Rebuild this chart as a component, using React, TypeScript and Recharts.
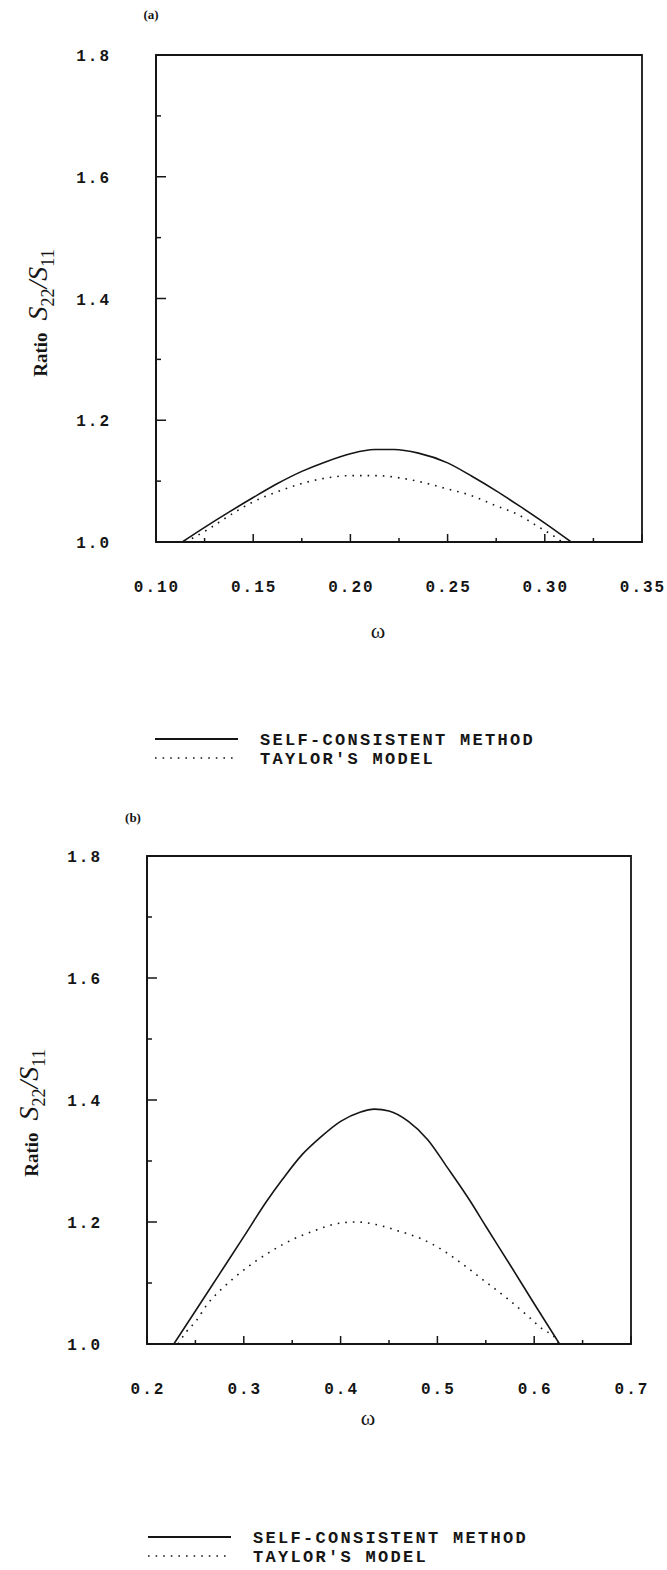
import React from 'react';
import { LineChart, Line, XAxis, YAxis, Legend, ReferenceArea } from 'recharts';

// ---------- Panel (a) ----------
const selfOmegaA = [0.1135, 0.125, 0.1375, 0.15, 0.1625, 0.175, 0.1875, 0.2, 0.2125, 0.2225, 0.235, 0.25, 0.2625, 0.275, 0.2875, 0.3, 0.3136];
const selfRatioA = [1.0, 1.024, 1.049, 1.073, 1.096, 1.116, 1.132, 1.145, 1.152, 1.152, 1.146, 1.13, 1.108, 1.084, 1.058, 1.031, 1.0];
const taylorOmegaA = [0.115, 0.1264, 0.138, 0.15, 0.162, 0.175, 0.1873, 0.2002, 0.2131, 0.226, 0.237, 0.25, 0.2616, 0.2745, 0.2856, 0.2967, 0.304, 0.309];
const taylorRatioA = [1.0, 1.02, 1.044, 1.066, 1.082, 1.096, 1.105, 1.109, 1.109, 1.105, 1.098, 1.087, 1.077, 1.06, 1.046, 1.025, 1.011, 1.0];
const xTicksA = [0.1, 0.125, 0.15, 0.175, 0.2, 0.225, 0.25, 0.275, 0.3, 0.325, 0.35];
const xMajorA = [0.1, 0.15, 0.2, 0.25, 0.3, 0.35];
const xLabelsA = ['0.10', '0.15', '0.20', '0.25', '0.30', '0.35'];

// ---------- Panel (b) ----------
const selfOmegaB = [0.2277, 0.25, 0.275, 0.3, 0.3236, 0.34, 0.36, 0.38, 0.4, 0.42, 0.435, 0.45, 0.47, 0.49, 0.51, 0.534, 0.55, 0.575, 0.6, 0.6262];
const selfRatioB = [1.0, 1.054, 1.115, 1.176, 1.234, 1.27, 1.31, 1.34, 1.365, 1.38, 1.385, 1.382, 1.365, 1.335, 1.29, 1.234, 1.193, 1.13, 1.066, 1.0];
const taylorOmegaB = [0.232, 0.2406, 0.2498, 0.2627, 0.2756, 0.2904, 0.3107, 0.3292, 0.3513, 0.3734, 0.3956, 0.4159, 0.4362, 0.4583, 0.4841, 0.5063, 0.5284, 0.5506, 0.5727, 0.5948, 0.6096, 0.6207, 0.625];
const taylorRatioB = [1.0, 1.02, 1.036, 1.066, 1.088, 1.109, 1.134, 1.153, 1.172, 1.186, 1.197, 1.2, 1.196, 1.186, 1.172, 1.153, 1.128, 1.101, 1.074, 1.044, 1.023, 1.012, 1.0];
const xTicksB = [0.2, 0.25, 0.3, 0.35, 0.4, 0.45, 0.5, 0.55, 0.6, 0.65, 0.7];
const xMajorB = [0.2, 0.3, 0.4, 0.5, 0.6, 0.7];
const xLabelsB = ['0.2', '0.3', '0.4', '0.5', '0.6', '0.7'];

// ---------- Shared y axis ----------
const yTicks = [1.0, 1.1, 1.2, 1.3, 1.4, 1.5, 1.6, 1.7, 1.8];
const yMajor = [1.0, 1.2, 1.4, 1.6, 1.8];
const yLabels = ['1.0', '1.2', '1.4', '1.6', '1.8'];

const seriesNames = ['SELF-CONSISTENT METHOD', "TAYLOR'S MODEL"];

const zip = (xs: number[], ys: number[]) => xs.map((w, i) => ({ w, r: ys[i] }));

const INK = '#151515';
const MONO = '"Liberation Mono", "DejaVu Sans Mono", monospace';
const SERIF = '"Liberation Serif", "DejaVu Serif", serif';

const findLabel = (v: number, majors: number[], labels: string[]) => {
  const i = majors.findIndex((m) => Math.abs(m - v) < 1e-6);
  return i >= 0 ? labels[i] : null;
};

const makeXTick = (majors: number[], labels: string[]) => (props: any) => {
  const { x, y, payload } = props;
  const lab = findLabel(payload.value, majors, labels);
  return (
    <g>
      <line x1={x} x2={x} y1={y} y2={y - (lab ? 8 : 4)} stroke={INK} strokeWidth={1.5} />
      {lab && (
        <text x={x + 1} y={y + 50} textAnchor="middle" fontFamily={MONO} fontSize={16} fontWeight="bold" letterSpacing={2} fill={INK}>
          {lab}
        </text>
      )}
    </g>
  );
};

const YTick = (props: any) => {
  const { x, y, payload } = props;
  const lab = findLabel(payload.value, yMajor, yLabels);
  return (
    <g>
      <line x1={x} x2={x + (lab ? 10 : 5)} y1={y} y2={y} stroke={INK} strokeWidth={1.5} />
      {lab && (
        <text x={x - 45} y={y + 6} textAnchor="end" fontFamily={MONO} fontSize={16} fontWeight="bold" letterSpacing={2} fill={INK}>
          {lab}
        </text>
      )}
    </g>
  );
};

const OmegaLabel = (props: any) => (
  <text x={props.px} y={props.py} textAnchor="middle" fontFamily={SERIF} fontSize={22} fill={INK}>
    ω
  </text>
);

const RatioLabel = (props: any) => (
  <g>
    <text
      transform={`translate(${props.px},${props.py}) rotate(-90)`}
      textAnchor="middle"
      fontFamily={SERIF}
      fill={INK}
    >
      <tspan fontSize={19} fontWeight="bold">Ratio</tspan>
      <tspan fontSize={28} fontStyle="italic" dx={12}>S</tspan>
      <tspan fontSize={18} dy={7}>22</tspan>
      <tspan fontSize={28} fontStyle="italic" dy={-7}>/S</tspan>
      <tspan fontSize={18} dy={7}>11</tspan>
    </text>
    <text x={props.tx} y={props.ty} textAnchor="middle" fontFamily={SERIF} fontSize={13} fontWeight="bold" fill={INK}>
      {props.tag}
    </text>
  </g>
);

const LegendBox = (props: any) => {
  const payload = props.payload || [];
  return (
    <svg width={440} height={44} style={{ display: 'block' }}>
      {payload.map((e: any, i: number) => {
        const dash = e.payload && e.payload.strokeDasharray;
        return (
          <g key={i}>
            <line
              x1={0}
              x2={83}
              y1={8 + i * 19}
              y2={8 + i * 19}
              stroke={INK}
              strokeWidth={dash ? 1.6 : 2.2}
              strokeDasharray={dash}
            />
            <text x={105} y={14 + i * 19} fontFamily={MONO} fontSize={17} fontWeight="bold" letterSpacing={2.3} fill={INK}>
              {e.value}
            </text>
          </g>
        );
      })}
    </svg>
  );
};

type PanelProps = {
  self: { w: number; r: number }[];
  taylor: { w: number; r: number }[];
  domain: [number, number];
  ticks: number[];
  majors: number[];
  labels: string[];
  width: number;
  height: number;
  margin: { top: number; right: number; left: number; bottom: number };
  omegaPos: [number, number];
  ratioPos: [number, number];
  tagPos: [number, number];
  tag: string;
  legendPos: [number, number];
};

const Panel = (p: PanelProps) => (
  <LineChart width={p.width} height={p.height} margin={p.margin}>
    <XAxis
      dataKey="w"
      type="number"
      domain={p.domain}
      ticks={p.ticks}
      interval={0}
      allowDataOverflow
      tickSize={0}
      tickMargin={0}
      height={30}
      axisLine={{ stroke: INK, strokeWidth: 2.2 }}
      tickLine={false}
      tick={makeXTick(p.majors, p.labels)}
      label={<OmegaLabel px={p.omegaPos[0]} py={p.omegaPos[1]} />}
    />
    <YAxis
      dataKey="r"
      type="number"
      domain={[1, 1.8]}
      ticks={yTicks}
      interval={0}
      allowDataOverflow
      tickSize={0}
      tickMargin={0}
      width={60}
      axisLine={{ stroke: INK, strokeWidth: 1.8 }}
      tickLine={false}
      tick={YTick}
      label={<RatioLabel px={p.ratioPos[0]} py={p.ratioPos[1]} tx={p.tagPos[0]} ty={p.tagPos[1]} tag={p.tag} />}
    />
    <ReferenceArea
      x1={p.domain[0]}
      x2={p.domain[1]}
      y1={1}
      y2={1.8}
      fill="none"
      fillOpacity={0}
      stroke={INK}
      strokeWidth={1.8}
      ifOverflow="visible"
    />
    <Legend
      layout="horizontal"
      verticalAlign="middle"
      align="center"
      content={LegendBox}
      wrapperStyle={{ top: p.legendPos[1], left: p.legendPos[0], width: 440, height: 44 }}
    />
    <Line
      data={p.self}
      dataKey="r"
      name={seriesNames[0]}
      type="monotone"
      stroke={INK}
      strokeWidth={1.6}
      dot={false}
      isAnimationActive={false}
    />
    <Line
      data={p.taylor}
      dataKey="r"
      name={seriesNames[1]}
      type="monotone"
      stroke={INK}
      strokeWidth={1.6}
      strokeDasharray="1.6 6"
      dot={false}
      isAnimationActive={false}
    />
  </LineChart>
);

export default function App() {
  return (
    <div style={{ position: 'absolute', left: 0, top: 0, width: 667, height: 1570, background: '#fff' }}>
      <div style={{ position: 'absolute', left: 0, top: 0 }}>
        <Panel
          self={zip(selfOmegaA, selfRatioA)}
          taylor={zip(taylorOmegaA, taylorRatioA)}
          domain={[0.1, 0.35]}
          ticks={xTicksA}
          majors={xMajorA}
          labels={xLabelsA}
          width={667}
          height={780}
          margin={{ top: 55, right: 25, left: 96, bottom: 208 }}
          omegaPos={[378, 638]}
          ratioPos={[47, 313]}
          tagPos={[151, 19]}
          tag="(a)"
          legendPos={[155, 731]}
        />
      </div>
      <div style={{ position: 'absolute', left: 0, top: 780 }}>
        <Panel
          self={zip(selfOmegaB, selfRatioB)}
          taylor={zip(taylorOmegaB, taylorRatioB)}
          domain={[0.2, 0.7]}
          ticks={xTicksB}
          majors={xMajorB}
          labels={xLabelsB}
          width={667}
          height={790}
          margin={{ top: 76, right: 36, left: 87, bottom: 196 }}
          omegaPos={[368, 645]}
          ratioPos={[38, 333]}
          tagPos={[133, 42]}
          tag="(b)"
          legendPos={[148, 749]}
        />
      </div>
    </div>
  );
}
